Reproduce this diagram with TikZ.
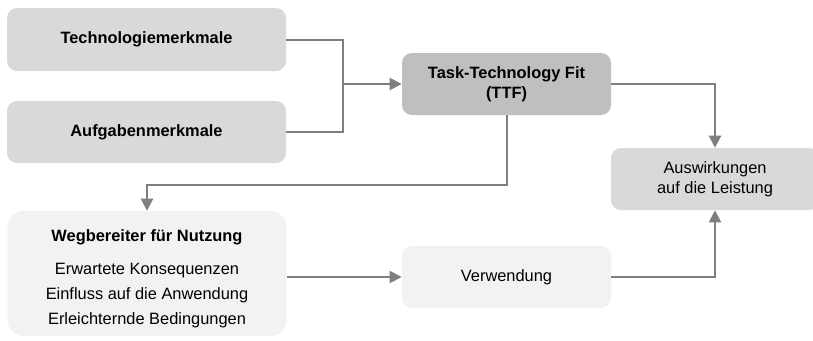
\documentclass[tikz,border=0pt]{standalone}
\usepackage{fontspec}
\setmainfont{Liberation Sans}
\usetikzlibrary{arrows.meta,calc}
\definecolor{boxmid}{HTML}{D9D9D9}
\definecolor{boxdark}{HTML}{BFBFBF}
\definecolor{boxlight}{HTML}{F2F2F2}
\definecolor{linegray}{HTML}{7F7F7F}
\tikzset{
  box/.style={rounded corners=7.5pt, inner sep=0pt, align=center,
    font=\fontsize{12.3}{15}\selectfont},
  conn/.style={draw=linegray, line width=1.5pt},
  arr/.style={conn, -{Triangle[length=9pt,width=9pt]}},
}
\begin{document}
\begin{tikzpicture}[x=0.75pt,y=-0.75pt]
\useasboundingbox (0,0) rectangle (813,340);
\node[box, fill=boxmid, minimum width=209.25pt, minimum height=47.25pt] (tech) at (146.5,39.5) {\bfseries Technologiemerkmale};
\node[box, fill=boxmid, minimum width=209.25pt, minimum height=46.5pt] (aufg) at (146.5,132) {\bfseries Aufgabenmerkmale};
\node[box, fill=boxdark, minimum width=156.75pt, minimum height=46.5pt] (ttf) at (506.5,84) {\bfseries Task-Technology Fit\\\bfseries (TTF)};
\node[box, fill=boxmid, minimum width=156pt, minimum height=46.5pt] (ausw) at (715,179) {Auswirkungen\\auf die Leistung};
\node[box, fill=boxlight, rounded corners=12pt, minimum width=209.25pt, minimum height=93.75pt] (weg) at (147,273.5) {};
\node[box, font=\fontsize{12.3}{18.75}\selectfont] (wegtext) at (147,279) {\bfseries Wegbereiter für Nutzung\\[6pt]Erwartete Konsequenzen\\Einfluss auf die Anwendung\\Erleichternde Bedingungen};
\node[box, fill=boxlight, minimum width=156.75pt, minimum height=46.5pt] (verw) at (506.5,277) {Verwendung};
\coordinate (j) at (343,84);
\draw[conn] (tech.east) -| (j);
\draw[conn] (aufg.east) -| (j);
\draw[arr] (j) -- (ttf.west);
\draw[arr] (ttf.east) -| (ausw.north);
\draw[arr] (ttf.south) -- ++(0,70) -| (weg.north);
\draw[arr] (weg.east |- verw.west) -- (verw.west);
\draw[arr] (verw.east) -| (ausw.south);
\end{tikzpicture}
\end{document}
